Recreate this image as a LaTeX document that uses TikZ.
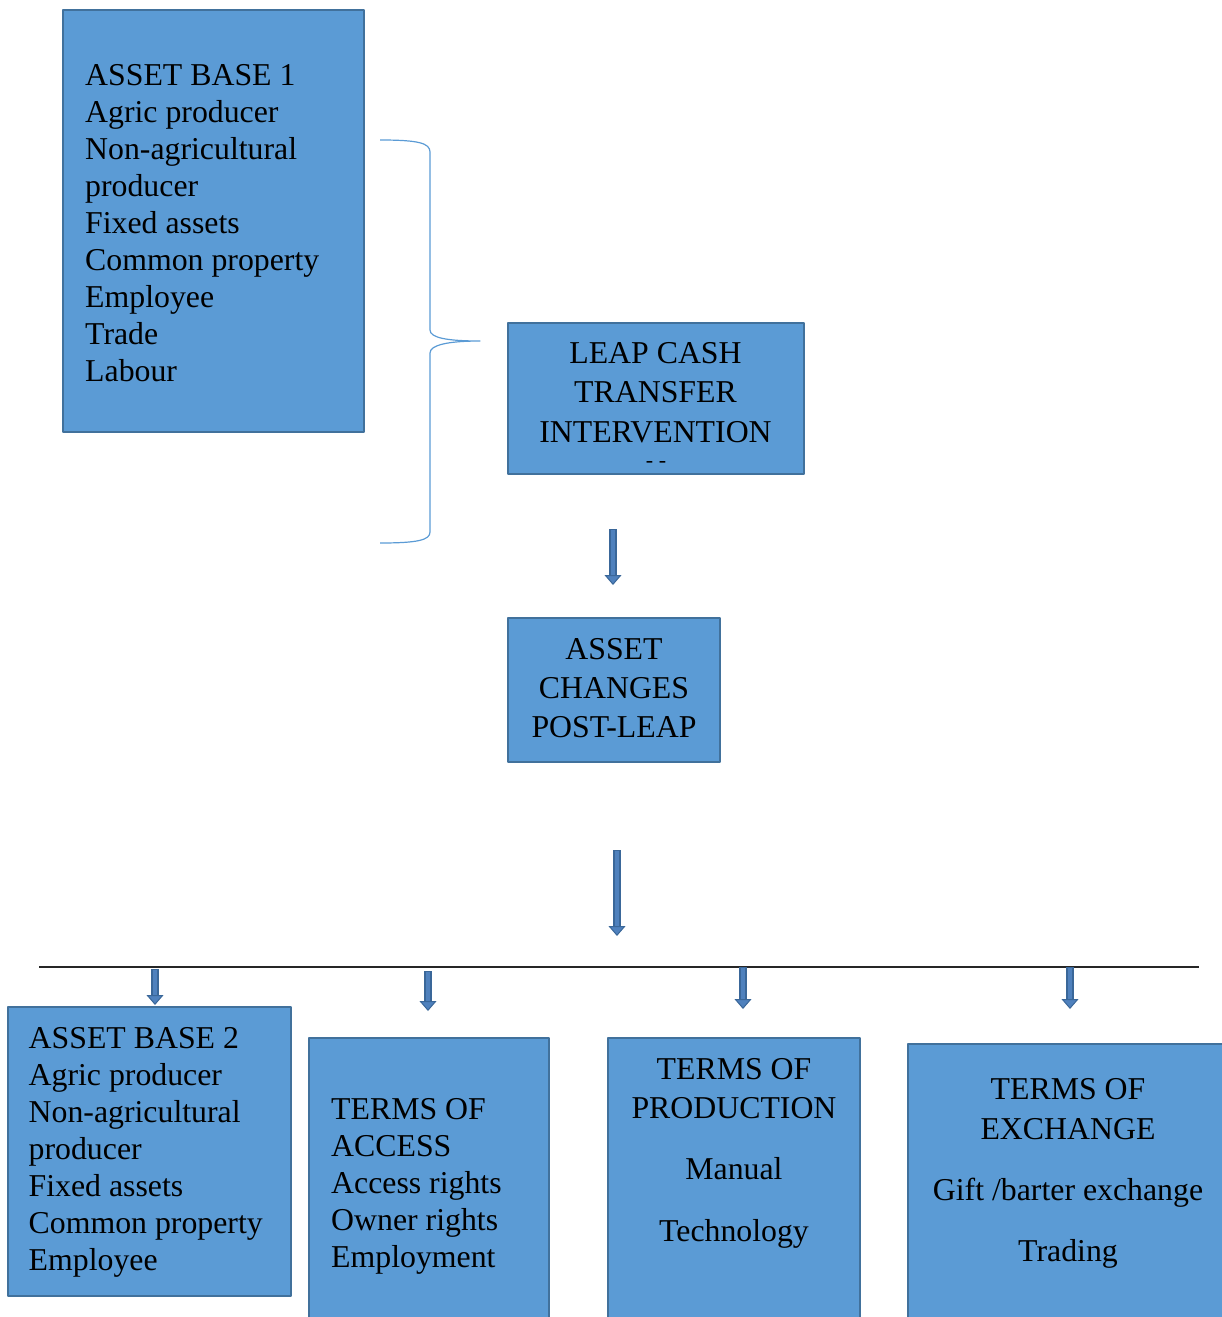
\documentclass[tikz,border=0pt]{standalone}
\usepackage{fontspec}
\setmainfont{Liberation Serif}
\usetikzlibrary{arrows.meta,positioning}
\definecolor{boxfill}{HTML}{5B9BD5}
\definecolor{boxedge}{HTML}{41719C}
\definecolor{arrfill}{HTML}{4F81BD}
\definecolor{arredge}{HTML}{3A6799}
\definecolor{bracecol}{HTML}{5B9BD5}
\tikzset{
  box/.style={draw=boxedge,fill=boxfill,line width=2pt,anchor=north west,inner sep=0pt,outer sep=0pt},
  txt/.style={inner sep=0pt,font=\fontsize{31.8}{37}\selectfont,text=black},
  blockarrow/.style={line width=4.5pt,draw=arrfill,
    -{Triangle[width=17pt,length=10pt,fill=arrfill,color=arredge,line width=1pt]},
    preaction={draw=arredge,line width=7.5pt,shorten >=9pt,shorten <=-1pt,-}},
  brace/.style={draw=bracecol,line width=1.2pt}
}
\begin{document}
\begin{tikzpicture}[x=1pt,y=-1pt,line join=round]
\useasboundingbox (0,0) rectangle (1222,1317);
% top part
\node[box,minimum width=301pt,minimum height=422pt] (base1) at (63,10) {};
\node[txt,align=left,below right=54.5pt and 22pt of base1.north west] (base1txt)
  {ASSET BASE 1\\Agric producer\\Non-agricultural\\producer\\Fixed assets\\Common property\\Employee\\Trade\\Labour};
\node[box,minimum width=296pt,minimum height=151pt] (leap) at (507.5,322.5) {};
\node[txt,align=center,below=20pt of leap.north] (leaptxt)
  {LEAP CASH\\[2.2pt]TRANSFER\\[2.2pt]INTERVENTION};
\node[font=\fontsize{22}{22}\selectfont,anchor=base] (leapdash) at (656,467) {- -};
\node[box,minimum width=212pt,minimum height=144pt] (changes) at (508,618) {};
\node[txt,align=center,below=20.5pt of changes.north] (changestxt)
  {ASSET\\[2pt]CHANGES\\[2pt]POST-LEAP};
% brace
\coordinate (bracetop) at (380,140);
\coordinate (bracetip) at (480,341);
\coordinate (bracebot) at (380,543);
\draw[brace] (bracetop) .. controls (418,140) and (430,143) .. (430,152) -- (430,330)
  .. controls (430,338) and (448,341) .. (bracetip)
  .. controls (448,341) and (430,345) .. (430,353) -- (430,532)
  .. controls (430,540) and (418,543) .. (bracebot);
% arrows
\coordinate (a1s) at (613,530); \coordinate (a1e) at (613,585);
\coordinate (a2s) at (617,851); \coordinate (a2e) at (617,936);
\draw[blockarrow] (a1s) -- (a1e);
\draw[blockarrow] (a2s) -- (a2e);
\coordinate (hlw) at (39,967); \coordinate (hle) at (1199,967);
\draw[line width=1.8pt,black!85] (hlw) -- (hle);
\foreach \x/\ya/\yb [count=\i] in {155/970/1005,428/972/1011,743/968/1009,1070/968/1009}{
  \coordinate (s\i) at (\x,\ya); \coordinate (e\i) at (\x,\yb);
  \draw[blockarrow] (s\i) -- (e\i);
}
% bottom row
\node[box,minimum width=283pt,minimum height=289pt] (base2) at (7.5,1006.5) {};
\node[txt,align=left,below right=20.5pt and 21pt of base2.north west] (base2txt)
  {ASSET BASE 2\\Agric producer\\Non-agricultural\\producer\\Fixed assets\\Common property\\Employee};
\node[box,minimum width=239.5pt,minimum height=300pt] (access) at (309,1037.5) {};
\node[txt,align=left,below right=60.5pt and 22pt of access.north west] (accesstxt)
  {TERMS OF\\ACCESS\\Access rights\\Owner rights\\Employment};
\node[box,minimum width=252pt,minimum height=300pt] (prod) at (608,1037.5) {};
\node[txt,align=center,below=20.5pt of prod.north] (prodtxt)
  {TERMS OF\\[2pt]PRODUCTION\\[24pt]Manual\\[25pt]Technology};
\node[box,minimum width=321pt,minimum height=300pt] (exch) at (907.5,1043.5) {};
\node[txt,align=center,below=34.5pt of exch.north] (exchtxt)
  {TERMS OF\\[3pt]EXCHANGE\\[24pt]Gift /barter exchange\\[24pt]Trading};
\end{tikzpicture}
\end{document}
